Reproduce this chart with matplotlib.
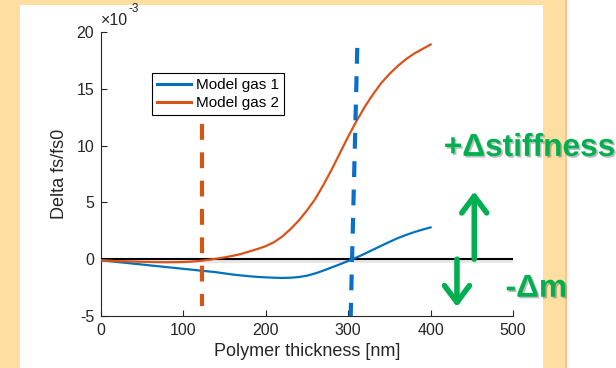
import matplotlib
matplotlib.use("Agg")
import matplotlib.pyplot as plt
import matplotlib.patches as mpatches
import matplotlib.patheffects as pe

plt.rcParams['font.family'] = ['Liberation Sans', 'DejaVu Sans']
plt.rcParams['axes.unicode_minus'] = False

# ---- data (values x 1e-3) ----
thickness = [0, 10, 20, 30, 40, 50, 60, 70, 80, 90, 100, 110, 120, 130, 140,
             150, 160, 170, 180, 190, 200, 210, 220, 230, 240, 250, 260, 270,
             280, 290, 300, 310, 320, 330, 340, 350, 360, 370, 380, 390, 400]
gas1 = [-0.1, -0.17, -0.25, -0.32, -0.4, -0.47, -0.55, -0.62, -0.7, -0.77,
        -0.85, -0.92, -1.0, -1.07, -1.15, -1.25, -1.35, -1.43, -1.5, -1.56,
        -1.6, -1.63, -1.65, -1.63, -1.57, -1.45, -1.25, -1.0, -0.72, -0.45,
        -0.15, 0.15, 0.48, 0.83, 1.18, 1.52, 1.85, 2.13, 2.38, 2.6, 2.8]
gas2 = [-0.1, -0.13, -0.17, -0.19, -0.21, -0.23, -0.25, -0.26, -0.27, -0.26,
        -0.25, -0.21, -0.15, -0.06, 0.05, 0.16, 0.3, 0.46, 0.68, 0.9,
        1.15, 1.5, 2.0, 2.65, 3.4, 4.3, 5.3, 6.55, 7.9, 9.35,
        10.8, 12.15, 13.4, 14.5, 15.5, 16.3, 17.0, 17.6, 18.1, 18.5, 18.9]
series_labels = ['Model gas 1', 'Model gas 2']
blue_marker_x = [303, 311]
blue_marker_y = [-5, 18.6]
orange_marker_x = [122, 122]
orange_marker_y = [-4.1, 11.9]
zero_x = [0, 500]
xticks = [0, 100, 200, 300, 400, 500]
yticks = [-5, 0, 5, 10, 15, 20]
up_arrow_x, up_arrow_y = 453, (0, 5.95)
down_arrow_x, down_arrow_y = 432, (0, -4.2)

W, H = 616, 368
fig = plt.figure(figsize=(W / 100, H / 100), dpi=100)
fig.patch.set_facecolor('#FFDEA2')

# white panel and right area
fig.patches.append(mpatches.Rectangle((20 / W, 0), (543 - 20) / W, (H - 5) / H,
                                      transform=fig.transFigure, facecolor='white',
                                      edgecolor='none', zorder=0))
fig.patches.append(mpatches.Rectangle((567 / W, 0), (W - 567) / W, 1,
                                      transform=fig.transFigure, facecolor='white',
                                      edgecolor='none', zorder=0))
for i, a in enumerate([0.25, 0.15, 0.08]):
    fig.patches.append(mpatches.Rectangle(((565 + i * 1.5) / W, 0), 1.5 / W, 1,
                                          transform=fig.transFigure, facecolor='#999999',
                                          alpha=a, edgecolor='none', zorder=0))

ax = fig.add_axes([101 / W, 52 / H, 412 / W, 284 / H])
ax.set_zorder(5)
ax.set_facecolor('none')

c1 = '#0072BD'
c2 = '#D95319'
green = '#00B050'

ax.plot(zero_x, [-0.18, -0.18], color='#bbbbbb', lw=3, alpha=0.35, zorder=2,
        solid_capstyle='butt')
ax.plot(zero_x, [0, 0], color='black', lw=1.5, zorder=3)
l1, = ax.plot(thickness, gas1, color=c1, lw=1.6, zorder=4, label=series_labels[0])
l2, = ax.plot(thickness, gas2, color=c2, lw=1.6, zorder=4, label=series_labels[1])
ax.plot(blue_marker_x[::-1], blue_marker_y[::-1], color='#0A6FC8', lw=3,
        dashes=(3.8, 3.0), zorder=5, clip_on=False)
ax.plot(orange_marker_x, orange_marker_y[::-1], color='#D45616', lw=3,
        dashes=(3.8, 3.0), zorder=5)

ax.set_xlim(0, 500)
ax.set_ylim(-5, 20)
ax.set_xticks(xticks)
ax.set_yticks(yticks)
ax.spines['top'].set_visible(False)
ax.spines['right'].set_visible(False)
for s in ['left', 'bottom']:
    ax.spines[s].set_color('#262626')
    ax.spines[s].set_linewidth(0.8)
ax.tick_params(direction='in', length=4, width=0.8, colors='#262626',
               labelsize=11.5, pad=5)
ax.set_xlabel('Polymer thickness [nm]', fontsize=13, color='#262626', labelpad=4)
ax.set_ylabel('Delta fs/fs0', fontsize=13, color='#262626', labelpad=6)

ax.text(0.0, 1.015, '\u00d710', transform=ax.transAxes, fontsize=11.5,
        color='#262626', ha='left', va='bottom')
ax.text(0.066, 1.06, '-3', transform=ax.transAxes, fontsize=8.5,
        color='#262626', ha='left', va='bottom')

leg = ax.legend(handles=[l1, l2], loc='upper left', bbox_to_anchor=(0.124, 0.856),
                borderaxespad=0, fancybox=False, edgecolor='black', fontsize=11,
                handlelength=2.2, handletextpad=0.3, borderpad=0.35,
                labelspacing=0.25, framealpha=1)
leg.get_frame().set_linewidth(0.8)
for h in leg.legend_handles:
    h.set_linewidth(2.2)

shadow = [pe.withSimplePatchShadow(offset=(1.2, -1.2), shadow_rgbFace='#444444', alpha=0.35)]
arrowprops = dict(arrowstyle='->,head_length=0.6,head_width=0.45', lw=4,
                  color=green, mutation_scale=20, shrinkA=0, shrinkB=0)
ax.annotate('', xy=(up_arrow_x, up_arrow_y[1]), xytext=(up_arrow_x, up_arrow_y[0]),
            arrowprops=arrowprops, annotation_clip=False, zorder=6)
ax.annotate('', xy=(down_arrow_x, down_arrow_y[1]), xytext=(down_arrow_x, down_arrow_y[0]),
            arrowprops=arrowprops, annotation_clip=False, zorder=6)

ax.text(416, 9.8, '+\u0394stiffness', fontsize=22.8, fontweight='bold', color=green,
        ha='left', va='center', path_effects=shadow, clip_on=False, zorder=7)
ax.text(491, -2.6, '-\u0394m', fontsize=22.8, fontweight='bold', color=green,
        ha='left', va='center', path_effects=shadow, clip_on=False, zorder=7)

fig.savefig('out.png', dpi=100, facecolor=fig.get_facecolor())
